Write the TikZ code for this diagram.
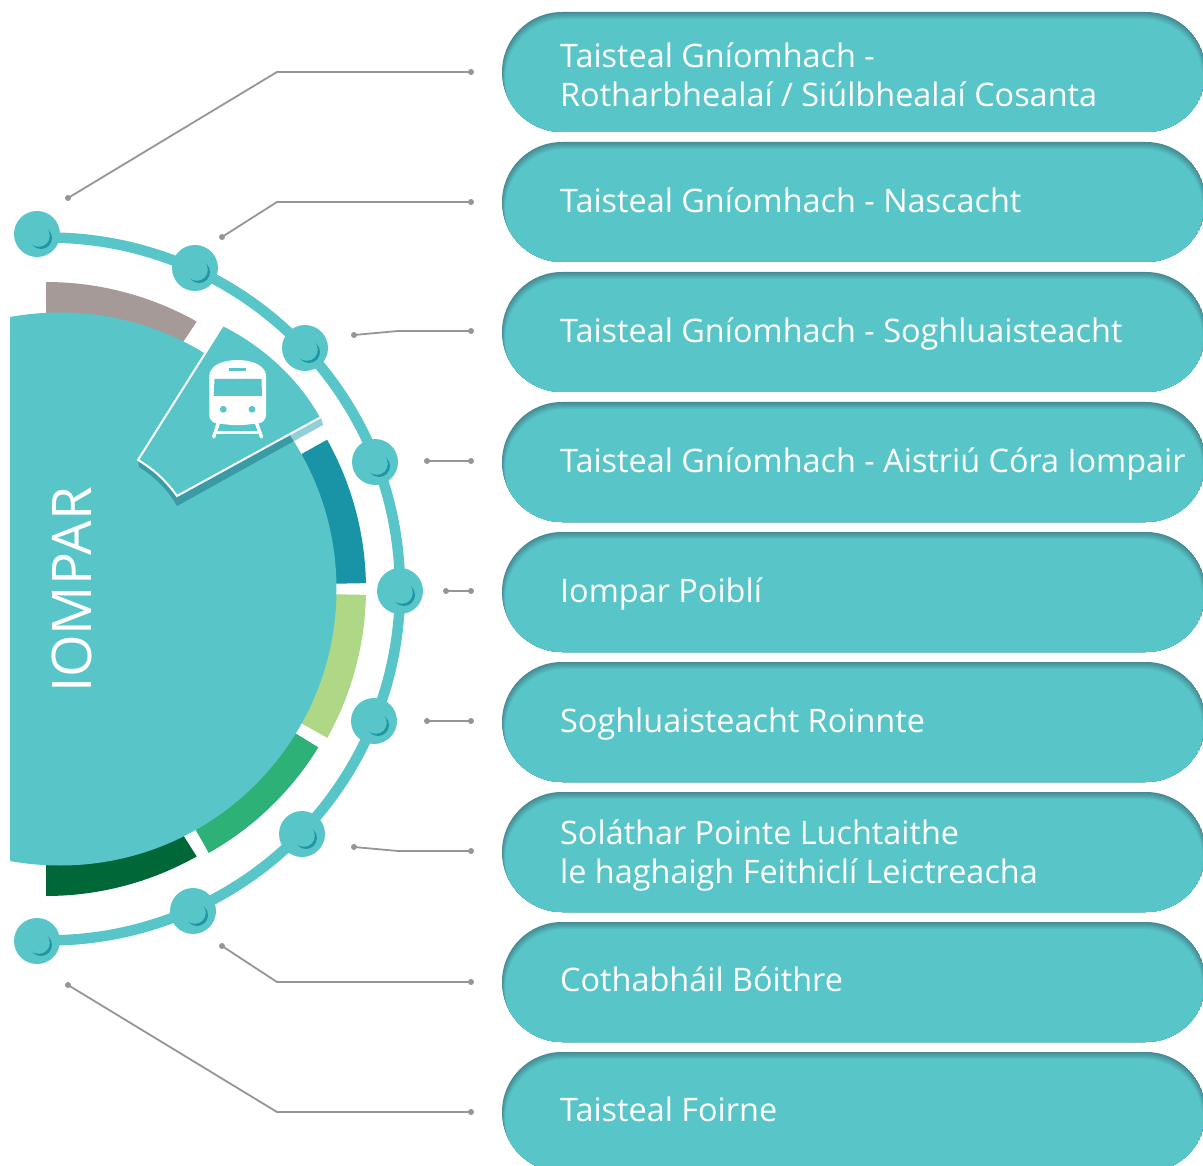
\documentclass[tikz,border=0pt]{standalone}
\usepackage{fontspec}
\setmainfont{Open Sans}
\definecolor{tealm}{HTML}{58C5C9}
\definecolor{tealsh}{HTML}{468A92}
\definecolor{crescent}{HTML}{1F96A3}
\definecolor{segGray}{HTML}{A59A98}
\definecolor{segBlue}{HTML}{1894A6}
\definecolor{segLime}{HTML}{AED886}
\definecolor{segGreen}{HTML}{2EB177}
\definecolor{segDark}{HTML}{006838}
\definecolor{leadc}{HTML}{939598}
\definecolor{wshadow}{HTML}{3A9BA6}
\definecolor{wshadowl}{HTML}{93CFD8}
\tikzset{
  leader/.style={draw=leadc,line width=1.8pt,line join=round},
  leaddot/.style={circle,fill=leadc,inner sep=0pt,minimum size=6pt},
  knob/.style={circle,fill=tealm,inner sep=0pt,minimum size=46pt},
  pilltext/.style={text=white,font=\fontsize{32.4}{39}\selectfont,align=left,inner sep=0pt},
}
\newcommand{\pillbox}[1]{%
  \begin{scope}
    \clip[rounded corners=60pt] (502,-#1) rectangle (1206,-#1-120);
    \foreach \i in {0,...,8}{
      \pgfmathsetmacro{\mixv}{\i*12.5}
      \fill[tealm!\mixv!tealsh,rounded corners=60pt] (502+0.4*\i,-#1-0.9*\i) rectangle (1206-0.4*\i,-#1-120-0.9*\i);
    }
  \end{scope}}
\newcommand{\knobat}[3]{%
  \node[knob] (#1) at (#2,-#3) {};
  \fill[crescent] (#2+4,-#3-4) circle (11);
  \fill[tealm] (#2+1.8,-#3-1.8) circle (11);}
\newcommand{\seg}[4]{%
  \fill[#1] ([shift={(60,-589)}]#2:#4) arc[start angle=#2,end angle=#3,radius=#4] -- ([shift={(60,-589)}]#3:240) arc[start angle=#3,end angle=#2,radius=240] -- cycle;}
\begin{document}
\begin{tikzpicture}[x=1pt,y=1pt]
\useasboundingbox (0,0) rectangle (1203,-1166);
\begin{scope}
\clip (0,0) rectangle (1203,-1166);
% pills
\pillbox{12}\pillbox{142}\pillbox{272}\pillbox{402}\pillbox{532}\pillbox{662}\pillbox{792}\pillbox{922}\pillbox{1052}
\end{scope}
\node[pilltext,anchor=west] (t1) at (560,-74.5) {Taisteal Gníomhach -\\Rotharbhealaí / Siúlbhealaí Cosanta};
\node[pilltext,anchor=base west] (t2) at (560,-213) {Taisteal Gníomhach - Nascacht};
\node[pilltext,anchor=base west] (t3) at (560,-343) {Taisteal Gníomhach - Soghluaisteacht};
\node[pilltext,anchor=base west] (t4) at (560,-472) {Taisteal Gníomhach - Aistriú Córa Iompair};
\node[pilltext,anchor=base west] (t5) at (560,-602) {Iompar Poiblí};
\node[pilltext,anchor=base west] (t6) at (560,-732) {Soghluaisteacht Roinnte};
\node[pilltext,anchor=west] (t7) at (560,-855) {Soláthar Pointe Luchtaithe\\le haghaigh Feithiclí Leictreacha};
\node[pilltext,anchor=base west] (t8) at (560,-991) {Cothabháil Bóithre};
\node[pilltext,anchor=base west] (t9) at (560,-1121) {Taisteal Foirne};
% leaders
\foreach \n/\x/\y in {a1/471/72,a2/471/202,a3/471/331,a4/471/461,a5/471/591,a6/471/721,a7/471/851,a8/471/982,a9/471/1112,
  b1/68/198,b2/222/237,b3/354/335,b4/427/461,b5/446/591,b6/427/721,b7/354/847,b8/222/946,b9/68/985}
  \node[leaddot] (\n) at (\x,-\y) {};
\coordinate (e1) at (277,-72);\coordinate (e2) at (277,-202);\coordinate (e3) at (398,-331);
\coordinate (e7) at (398,-851);\coordinate (e8) at (277,-982);\coordinate (e9) at (277,-1112);
\draw[leader] (a1.center) -- (e1) -- (b1.center);
\draw[leader] (a2.center) -- (e2) -- (b2.center);
\draw[leader] (a3.center) -- (e3) -- (b3.center);
\draw[leader] (a4.center) -- (b4.center);
\draw[leader] (a5.center) -- (b5.center);
\draw[leader] (a6.center) -- (b6.center);
\draw[leader] (a7.center) -- (e7) -- (b7.center);
\draw[leader] (a8.center) -- (e8) -- (b8.center);
\draw[leader] (a9.center) -- (e9) -- (b9.center);
% ring
\draw[tealm,line width=10.5pt] ([shift={(48.6,-589)}]91.7:351.4) arc[start angle=91.7,end angle=-91.7,radius=351.4];
\knobat{k1}{37}{234}\knobat{k2}{195}{268}\knobat{k3}{305}{348}\knobat{k4}{375}{462}\knobat{k5}{400}{591}\knobat{k6}{374}{721}\knobat{k7}{302}{834}\knobat{k8}{193}{911}\knobat{k9}{37}{941}
% segments
\fill[segGray] (46,-282) arc[start angle=90,end angle=60.6,radius=307] -- (160,-377) -- (46,-377) -- cycle;
\seg{segBlue}{1.1}{29.2}{306}
\seg{segLime}{-1.1}{-29.1}{306}
\seg{segGreen}{-31.5}{-60.6}{303}
\fill[segDark] (46,-896) arc[start angle=-90,end angle=-60.6,radius=307] -- (157,-794) -- (46,-794) -- cycle;
% wedge shadow on white
\path[fill=wshadowl] (138,-460) -- (139,-467) .. controls (155,-477) and (168,-490) .. (177,-506) -- (323,-425) -- (321,-417) -- cycle;
% disc
\begin{scope}
\clip (10,0) rectangle (1203,-1166);
\fill[tealm] (60,-589) circle (276.5);
\clip (60,-589) circle (276.5);
\path[fill=wshadow] (138,-460) -- (139,-467) .. controls (155,-477) and (168,-490) .. (177,-506) -- (323,-425) -- (321,-417) -- cycle;
\end{scope}
% wedge
\path[fill=tealm,draw=white,line width=2pt,line join=miter] (223,-325) .. controls (265,-346) and (300,-379) .. (321,-417) -- (177,-496) .. controls (167,-482) and (155,-470) .. (138,-460) -- cycle;
% train icon
\fill[white] (209.3,-376) .. controls (209.3,-366) and (222,-360) .. (237.6,-360) .. controls (253,-360) and (266,-366) .. (266,-376) -- (266,-414) .. controls (266,-421) and (262,-424) .. (252,-424) .. controls (242,-425.5) and (233,-425.5) .. (223,-424) .. controls (213,-424) and (209.3,-421) .. (209.3,-414) -- cycle;
\fill[tealm] (214.5,-379) -- (261.5,-379) -- (262,-396) -- (213.7,-396) -- cycle;
\fill[tealm] (229.3,-368.3) rectangle (246,-371);
\fill[tealm] (223.3,-409.3) circle (3.4);
\fill[tealm] (252,-409.3) circle (3.4);
\draw[white,line width=3.4pt,line cap=round] (218.3,-423) -- (213.7,-437);
\draw[white,line width=3.4pt,line cap=round] (256.5,-423) -- (261.5,-437);
\draw[white,line width=3pt] (216.7,-432.5) -- (258.3,-432.5);
% title
\node[rotate=90,text=white,font=\fontsize{54.7}{55}\selectfont,inner sep=0pt] (title) at (71.5,-590) {IOMPAR};
\end{tikzpicture}
\end{document}
